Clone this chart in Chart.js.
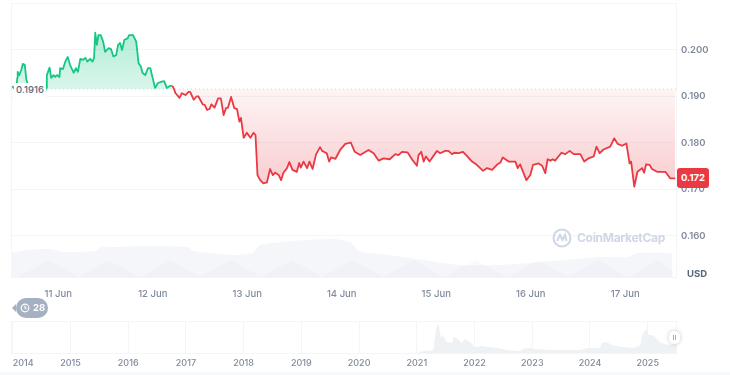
<!DOCTYPE html>
<html>
<head>
<meta charset="utf-8">
<title>Price chart</title>
<script src="https://cdn.jsdelivr.net/npm/chart.js@4"></script>
<style>
  html, body { margin: 0; padding: 0; background: #fff; overflow: hidden; font-family: Inter, sans-serif; }
  #wrap { position: relative; width: 730px; height: 375px; overflow: hidden; }
  canvas { position: absolute; left: 0; }
  #priceChart { top: 0; }
  #rangeChart { top: 310px; }
  .tag { position: absolute; white-space: nowrap; }
  #baseTag { left: 14px; top: 83px; width: 32px; height: 14px; line-height: 14px; background: #fff; color: #58667e; font-size: 9.5px; font-weight: 500; text-align: center; }
  #lastTag { left: 677px; top: 168px; width: 32px; height: 20px; line-height: 20px; background: #ea3943; border-radius: 3px; color: #fff; font-size: 9.5px; font-weight: 700; text-align: center; }
  #usd { left: 687px; top: 268px; color: #58667e; font-size: 9.5px; font-weight: 700; line-height: 12px; }
  #clock { left: 16px; top: 298px; width: 32px; height: 20px; border-radius: 10px; background: #a6b0c3; color: #fff; font-size: 9.5px; font-weight: 700; line-height: 20px; }
  #clock span { position: absolute; left: 17px; }
  #clock svg { position: absolute; left: 4px; top: 5px; }
  #clock:before { content: ""; position: absolute; left: -4px; top: 6px; border: 4px solid transparent; border-left: 0; border-right-color: #a6b0c3; }
  #mark { left: 552px; top: 228px; width: 114px; height: 20px; color: #cfd6e4; font-size: 12px; font-weight: 700; letter-spacing: -0.3px; line-height: 20px; }
  #mark span { position: absolute; left: 25px; }
  #handle { position: absolute; left: 669px; top: 331px; width: 11px; height: 13px; border-radius: 5px; background: #fff; box-shadow: 0 0 4px rgba(88,102,126,.35); }
  #handle:before { content: ""; position: absolute; left: 4px; top: 4px; width: 1px; height: 5px; background: #a6b0c3; box-shadow: 2px 0 0 #a6b0c3; }
  #foot { position: absolute; left: 0; top: 372px; width: 730px; height: 3px; background: #f8f9fa; }
</style>
</head>
<body>
<div id="wrap">
  <canvas id="priceChart" width="730" height="300"></canvas>
  <canvas id="rangeChart" width="730" height="60"></canvas>
  <div class="tag" id="baseTag">0.1916</div>
  <div class="tag" id="lastTag">0.172</div>
  <div class="tag" id="usd">USD</div>
  <div class="tag" id="clock">
    <svg width="10" height="10" viewBox="0 0 10 10" fill="none" stroke="#fff" stroke-width="1.2"><circle cx="5" cy="5" r="3.8"/><path d="M5 2.8V5l1.6 1"/></svg>
    <span>28</span>
  </div>
  <div class="tag" id="mark">
    <svg width="20" height="20" viewBox="0 0 20 20" fill="none" stroke="#cfd6e4" stroke-width="2"><circle cx="10" cy="10" r="8.5"/><path d="M5 13l3-6 2.500 5 2.500-5 1.500 6"/></svg>
    <span>CoinMarketCap</span>
  </div>
  <div id="handle"></div>
  <div id="foot"></div>
</div>

<script>
// hours counted from 11 Jun 00:00
const priceHours = [-11.7,-11.2,-10.7,-10.4,-10.3,-9.9,-9.4,-9.0,-8.5,-8.1,-7.8,-7.4,-6.4,-5.1,-4.1,-3.3,-3.1,-2.9,-2.2,-1.8,-1.2,-0.8,-0.3,
  0.3,0.5,1.2,1.8,2.4,3.0,3.9,4.5,5.0,5.6,6.3,6.9,7.4,8.1,8.7,9.1,9.4,9.8,10.2,10.8,11.4,11.9,12.8,13.4,14.0,14.7,15.2,15.7,16.2,16.8,17.6,18.0,19.0,19.8,20.4,21.0,21.4,22.1,22.8,23.4,23.8,
  24.6,25.3,26.3,26.9,27.6,28.4,29.0,29.5,29.7,30.8,31.4,32.3,33.1,33.5,34.4,35.1,35.6,36.7,37.2,37.8,38.4,38.9,39.7,40.6,41.3,42.0,42.6,43.1,43.9,44.7,45.4,46.0,46.4,47.1,47.9,
  48.8,49.6,50.1,50.6,51.3,52.1,53.0,53.8,54.5,55.1,56.0,56.6,57.2,58.1,58.7,59.5,60.6,61.2,61.6,62.3,63.2,63.8,64.6,65.5,66.5,67.0,68.2,68.8,69.3,70.4,71.6,
  72.9,74.3,75.3,76.7,78.8,80.1,81.4,82.6,84.2,85.6,86.4,87.3,88.7,90.0,91.1,91.5,92.2,92.8,93.4,94.3,
  96.2,97.0,98.3,99.1,100.0,100.6,101.7,102.8,103.6,105.1,106.3,107.9,108.9,110.2,111.4,112.3,112.9,114.4,116.1,116.7,117.3,118.9,
  119.9,120.6,122.0,122.9,123.7,124.3,125.0,125.6,126.2,127.8,128.8,129.9,130.9,132.6,133.6,134.7,136.0,136.7,137.5,138.5,140.2,141.2,142.1,143.2,
  144.3,145.1,145.5,146.3,147.1,148.3,148.8,149.3,150.2,150.8,152.1,154.2,155.4,156.7];
const priceValues = [.1922,.1918,.1912,.1940,.1953,.1946,.1957,.1970,.1968,.1936,.1929,.1910,.1908,.1910,.1908,.1912,.1918,.1946,.1962,.1940,.1946,.1942,.1946,
  .1942,.1961,.1959,.1975,.1985,.1968,.1951,.1961,.1953,.1981,.1979,.1983,.1975,.1981,.1975,.1983,.2037,.2011,.2032,.2032,.2018,.1996,.2004,.2002,.1986,.1989,.2011,.2015,.2000,.2022,.2025,.2032,.2032,.2018,.1972,.1964,.1951,.1946,.1961,.1961,.1946,
  .1918,.1929,.1932,.1933,.1918,.1923,.1923,.1914,.1908,.1897,.1907,.1903,.1910,.1910,.1893,.1900,.1900,.1883,.1882,.1871,.1873,.1883,.1876,.1896,.1896,.1860,.1875,.1876,.1899,.1875,.1873,.1846,.1854,.1811,.1822,
  .1811,.1822,.1817,.1731,.1720,.1713,.1715,.1744,.1731,.1736,.1731,.1720,.1736,.1746,.1759,.1742,.1738,.1757,.1747,.1760,.1746,.1760,.1744,.1776,.1791,.1783,.1778,.1760,.1769,.1766,.1785,
  .1798,.1801,.1781,.1774,.1785,.1778,.1762,.1767,.1765,.1776,.1774,.1781,.1780,.1763,.1751,.1774,.1781,.1760,.1771,.1760,
  .1783,.1778,.1783,.1783,.1776,.1779,.1778,.1781,.1774,.1760,.1753,.1740,.1746,.1742,.1753,.1758,.1769,.1760,.1760,.1746,.1754,.1720,
  .1731,.1753,.1756,.1751,.1735,.1765,.1762,.1765,.1762,.1779,.1776,.1783,.1776,.1776,.1760,.1767,.1771,.1792,.1778,.1786,.1792,.1810,.1798,.1794,
  .1799,.1756,.1760,.1706,.1738,.1746,.1736,.1754,.1753,.1744,.1738,.1738,.1724,.1724];
const openPrice = 0.1916;

const volumeHours = [-11.9,-7.9,-2.0,1.3,9.4,10.7,14.5,20.8,33.0,34.3,44.5,49.5,51.3,59.7,69.8,74.1,76.0,78.0,82.3,90.8,101.7,111.8,122.9,137.2,144.8,147.1,154.7,156.0];
const volumeValues = [24,27,28,25,26,30,30,31,30,26,22,24,32,36,38,35,27,24,23,18,12,12,15,20,20,24,24,23];
const volumeBackHours = [-10.2,-2.5,5.1,12.7,20.6,28.4,36,43.7,51.6,59.4,67,74.7,82.5,90.2,98,105.9,114,121.9,129.5,137.2,144.8,152.4,156];
const volumeBackValues = [0,17,0,17,0,17,0,17,0,17,0,17,0,17,0,17,0,17,0,17,0,17,6];

const priceTicks = [0.16, 0.17, 0.18, 0.19, 0.2];
const dayTicks = [0, 24, 48, 72, 96, 120, 144];
const dayLabels = ['11 Jun', '12 Jun', '13 Jun', '14 Jun', '15 Jun', '16 Jun', '17 Jun'];

const historyYears = [2013.97,2021.0,2021.06,2021.11,2021.28,2021.31,2021.35,2021.38,2021.42,2021.45,2021.52,2021.61,2021.64,2021.71,2021.78,2021.83,2021.92,2022.01,2022.13,2022.23,2022.41,2022.56,2022.79,2022.87,2022.96,2023.05,2023.36,2023.83,2023.97,2024.17,2024.21,2024.29,2024.38,2024.57,2024.75,2024.87,2024.92,2024.99,2025.02,2025.09,2025.21,2025.35,2025.49];
const historyValues = [0,0,1,2,3,15,28,28,15,18,11,10,16,14,10,14,11,6,7,6,5,3,2,5,5,4,3,3,5,5,10,11,8,6,5,8,20,24,18,18,11,8,9];
const yearTicks = [2014,2015,2016,2017,2018,2019,2020,2021,2022,2023,2024,2025];

const GREEN = '#16c784';
const RED = '#ea3943';
const GRID = '#f4f5f7';
const TEXT = '#808a9d';

function pairs(xs, ys) {
  return xs.map((x, i) => ({ x: x, y: ys[i] }));
}

// stop the tick labels from pushing the plot area in
function noPadding(axis) {
  axis.paddingTop = 0;
  axis.paddingBottom = 0;
  axis.paddingLeft = 0;
  axis.paddingRight = 0;
}

// thin border round the plot
const framePlugin = {
  id: 'frame',
  beforeDatasetsDraw(chart) {
    const a = chart.chartArea, c = chart.ctx;
    c.save();
    c.strokeStyle = GRID;
    c.lineWidth = 1;
    c.strokeRect(a.left + 0.5, a.top + 0.5, a.right - a.left, a.bottom - a.top);
    c.restore();
  }
};

const priceChart = new Chart(document.getElementById('priceChart'), {
  type: 'line',
  plugins: [framePlugin],
  data: {
    datasets: [
      {
        data: pairs(priceHours, priceValues),
        yAxisID: 'y',
        order: 1,
        borderWidth: 1.8,
        borderJoinStyle: 'round',
        pointRadius: 0,
        tension: 0,
        borderColor: GREEN,
        segment: {
          borderColor: c => (c.p1.parsed.y >= openPrice ? GREEN : RED)
        },
        fill: { target: { value: openPrice }, above: 'rgba(22,199,132,.2)', below: 'rgba(234,57,67,.15)' }
      },
      {
        data: pairs([-12, 156.9], [openPrice, openPrice]),
        yAxisID: 'y',
        order: 0,
        borderColor: '#d5dae3',
        borderWidth: 1,
        borderDash: [1, 3],
        pointRadius: 0,
        fill: false
      },
      {
        data: pairs(volumeBackHours, volumeBackValues),
        yAxisID: 'vol',
        order: 2,
        borderWidth: 0,
        pointRadius: 0,
        tension: 0,
        backgroundColor: 'rgba(225,229,236,.18)',
        fill: 'origin'
      },
      {
        data: pairs(volumeHours, volumeValues),
        yAxisID: 'vol',
        order: 3,
        borderWidth: 0,
        pointRadius: 0,
        tension: 0.2,
        backgroundColor: '#f5f6f9',
        fill: 'origin'
      }
    ]
  },
  options: {
    responsive: false,
    animation: false,
    layout: { padding: { left: 11, top: 3 } },
    plugins: { legend: { display: false }, tooltip: { enabled: false } },
    scales: {
      x: {
        type: 'linear',
        min: -12,
        max: 156.9,
        grid: { display: false },
        border: { display: false },
        afterBuildTicks: axis => { axis.ticks = dayTicks.map(v => ({ value: v })); },
        afterFit: axis => { axis.height = 23; noPadding(axis); },
        ticks: {
          autoSkip: false,
          maxRotation: 0,
          padding: 3,
          color: TEXT,
          font: { family: 'Inter', size: 9.5, weight: '500' },
          callback: v => dayLabels[dayTicks.indexOf(v)]
        }
      },
      y: {
        position: 'right',
        min: 0.15118,
        max: 0.2101,
        grid: { color: GRID, drawTicks: false },
        border: { color: GRID },
        afterBuildTicks: axis => { axis.ticks = priceTicks.map(v => ({ value: v })); },
        afterFit: axis => { axis.width = 54; noPadding(axis); },
        ticks: {
          padding: 5,
          color: TEXT,
          font: { family: 'Inter', size: 9.5, weight: '600' },
          callback: v => v.toFixed(3)
        }
      },
      vol: { display: false, min: 0, max: 274 }
    }
  }
});

// the fills need the finished scale to place their gradients
const yScale = priceChart.scales.y;
const ctx = priceChart.ctx;
const baseY = yScale.getPixelForValue(openPrice);
const greenFill = ctx.createLinearGradient(0, yScale.getPixelForValue(0.2037), 0, baseY);
greenFill.addColorStop(0, 'rgba(22,199,132,.33)');
greenFill.addColorStop(1, 'rgba(22,199,132,.16)');
const redFill = ctx.createLinearGradient(0, baseY, 0, yScale.getPixelForValue(0.1706));
redFill.addColorStop(0, 'rgba(234,57,67,.05)');
redFill.addColorStop(1, 'rgba(234,57,67,.26)');
priceChart.data.datasets[0].fill.above = greenFill;
priceChart.data.datasets[0].fill.below = redFill;
priceChart.update('none');

new Chart(document.getElementById('rangeChart'), {
  type: 'line',
  plugins: [framePlugin],
  data: {
    datasets: [{
      data: pairs(historyYears, historyValues),
      borderWidth: 0,
      pointRadius: 0,
      tension: 0.1,
      backgroundColor: '#eff2f5',
      fill: 'origin'
    }]
  },
  options: {
    responsive: false,
    animation: false,
    layout: { padding: { left: 11, top: 11, right: 54 } },
    plugins: { legend: { display: false }, tooltip: { enabled: false } },
    scales: {
      x: {
        type: 'linear',
        min: 2013.97,
        max: 2025.49,
        grid: { color: GRID, drawTicks: false },
        border: { display: false },
        afterBuildTicks: axis => { axis.ticks = yearTicks.concat([2025.49]).map(v => ({ value: v })); },
        afterFit: axis => { axis.height = 17; noPadding(axis); },
        ticks: {
          autoSkip: false,
          maxRotation: 0,
          align: 'inner',
          padding: 5,
          color: TEXT,
          font: { family: 'Inter', size: 9, weight: '500' },
          callback: v => (yearTicks.includes(v) ? String(v) : '')
        }
      },
      y: { display: false, min: 0, max: 32 }
    }
  }
});
</script>
</body>
</html>
